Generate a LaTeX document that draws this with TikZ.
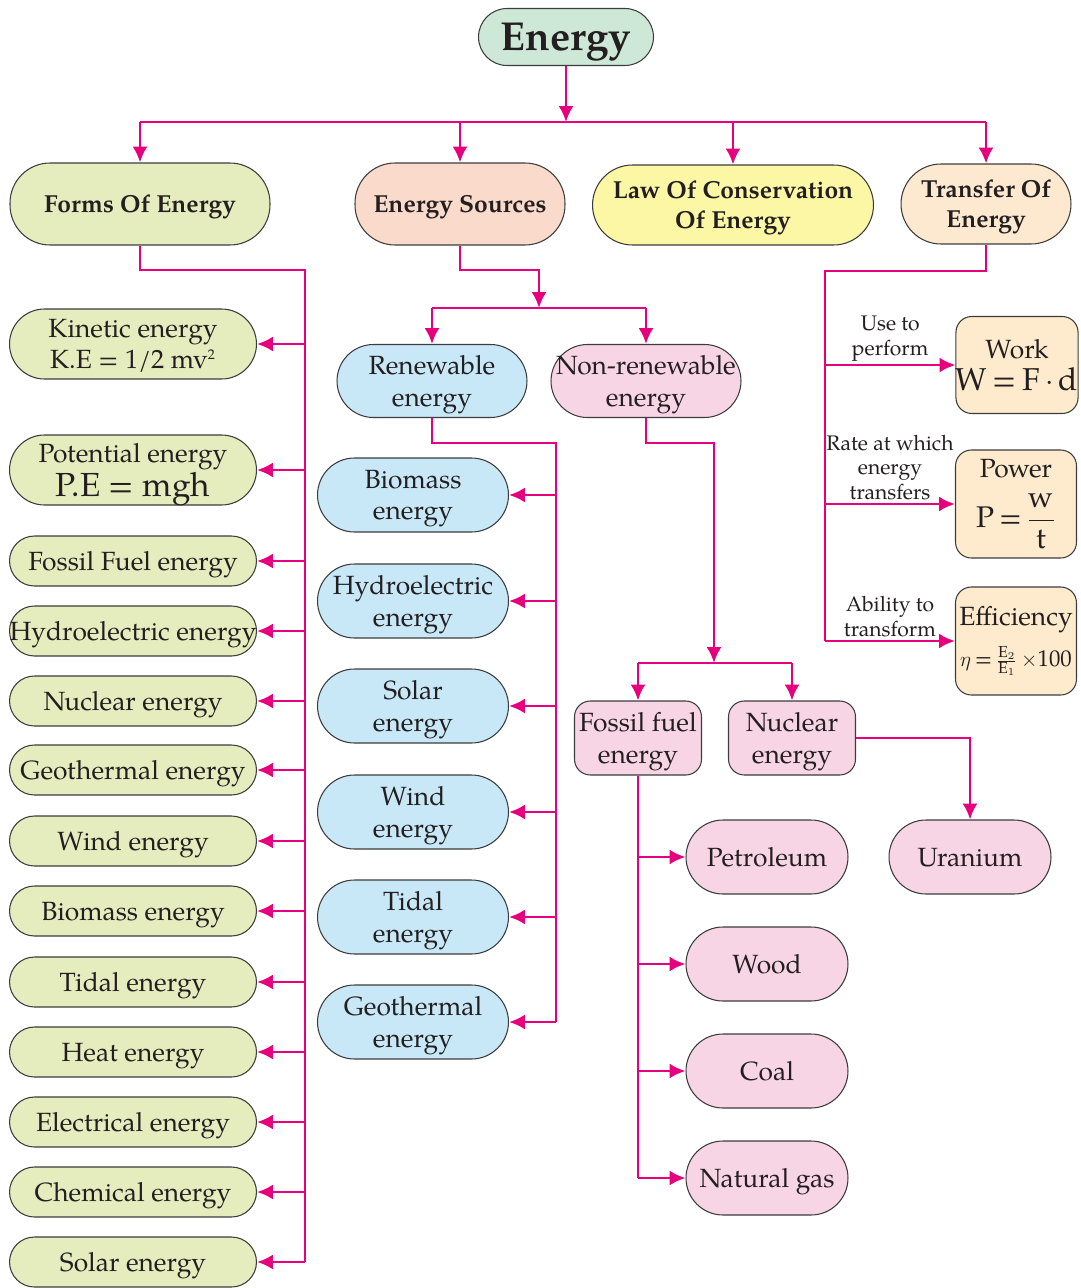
\documentclass[tikz,border=0pt]{standalone}
\usepackage{amsmath}
\usepackage{fontspec}
\setmainfont{texgyrepagella}[Extension=.otf,UprightFont=*-regular,BoldFont=*-bold,ItalicFont=*-italic,BoldItalicFont=*-bolditalic]
\usetikzlibrary{arrows.meta}
\definecolor{enMag}{RGB}{230,0,126}
\definecolor{enInk}{RGB}{35,31,32}
\definecolor{enLine}{RGB}{60,60,60}
\definecolor{enMint}{RGB}{205,232,214}
\definecolor{enForm}{RGB}{229,236,190}
\definecolor{enSalmon}{RGB}{250,218,203}
\definecolor{enYellow}{RGB}{252,247,165}
\definecolor{enPeach}{RGB}{253,233,207}
\definecolor{enBlue}{RGB}{200,232,248}
\definecolor{enPink}{RGB}{248,213,229}
\definecolor{enCream}{RGB}{254,234,204}

\begin{document}
\begin{tikzpicture}[x=0.02cm,y=-0.02cm,
    pill/.style={rectangle,rounded corners=#1,draw=enLine,line width=0.6pt,align=center,text=enInk,inner sep=0pt,text depth=0pt,font=\fontsize{15}{18}\selectfont},
    pill/.default=0.5cm,
    head/.style={pill=0.8cm,font=\fontsize{14}{17}\selectfont\bfseries},
    formitem/.style={pill=0.5cm,fill=enForm,minimum width=4.94cm,minimum height=1cm},
    renitem/.style={pill=0.74cm,fill=enBlue,minimum width=3.82cm,minimum height=1.48cm},
    fuelitem/.style={pill=0.74cm,fill=enPink,minimum width=3.24cm,minimum height=1.48cm},
    box/.style={rectangle,rounded corners=9pt,draw=enLine,line width=0.6pt,align=center,text=enInk,inner sep=0pt,font=\fontsize{15}{18}\selectfont},
    lbl/.style={align=center,text=enInk,inner sep=1.5pt,font=\fontsize{12}{14}\selectfont},
    line/.style={draw=enMag,line width=1.6pt},
    arrow/.style={line,-{Latex[length=9pt,width=8.5pt]}}
  ]
    \useasboundingbox (0,0) rectangle (1081,1288);
    % root and first level
    \node[pill=0.57cm,fill=enMint,minimum width=3.5cm,minimum height=1.14cm,font=\fontsize{23}{26}\selectfont\bfseries] (energy) at (566,37) {Energy};
    \node[head,fill=enForm,minimum width=5.2cm,minimum height=1.64cm] (forms) at (140,204) {Forms Of Energy};
    \node[head,fill=enSalmon,minimum width=4.2cm,minimum height=1.64cm] (sources) at (460,204) {Energy Sources};
    \node[head,fill=enYellow,minimum width=5.62cm,minimum height=1.6cm] (law) at (733,205) {Law Of Conservation\\Of Energy};
    \node[head,fill=enPeach,minimum width=3.4cm,minimum height=1.6cm] (transfer) at (986,204) {Transfer Of\\Energy};

    % forms of energy
    \node[formitem,pill=0.7cm,minimum height=1.4cm] (kinetic) at (133,344) {Kinetic energy\\K.E = 1/2 mv\textsuperscript{\fontsize{8}{8}\selectfont 2}};
    \node[formitem,pill=0.7cm,minimum height=1.4cm] (potential) at (133,470) {Potential energy\\{\fontsize{19}{20}\selectfont P.E = mgh}};
    \node[formitem] (fossilF) at (133,561) {Fossil Fuel energy};
    \node[formitem] (hydroF) at (133,631) {Hydroelectric energy};
    \node[formitem] (nuclearF) at (133,701) {Nuclear energy};
    \node[formitem] (geoF) at (133,770) {Geothermal energy};
    \node[formitem] (windF) at (133,841) {Wind energy};
    \node[formitem] (bioF) at (133,911) {Biomass energy};
    \node[formitem] (tidalF) at (133,982) {Tidal energy};
    \node[formitem] (heatF) at (133,1052) {Heat energy};
    \node[formitem] (elecF) at (133,1122) {Electrical energy};
    \node[formitem] (chemF) at (133,1192) {Chemical energy};
    \node[formitem] (solarF) at (133,1262) {Solar energy};

    % energy sources
    \node[pill=0.73cm,fill=enBlue,minimum width=3.8cm,minimum height=1.46cm] (renew) at (432,381) {Renewable\\energy};
    \node[pill=0.73cm,fill=enPink,minimum width=3.8cm,minimum height=1.46cm] (nonrenew) at (646,381) {Non-renewable\\energy};
    \node[renitem] (bioR) at (413,495) {Biomass\\energy};
    \node[renitem] (hydroR) at (413,601) {Hydroelectric\\energy};
    \node[renitem] (solarR) at (413,706) {Solar\\energy};
    \node[renitem] (windR) at (413,812) {Wind\\energy};
    \node[renitem] (tidalR) at (413,917) {Tidal\\energy};
    \node[renitem] (geoR) at (413,1022) {Geothermal\\energy};
    \node[box,fill=enPink,minimum width=2.54cm,minimum height=1.48cm,text depth=0pt] (fossilN) at (638,738) {Fossil fuel\\energy};
    \node[box,fill=enPink,minimum width=2.54cm,minimum height=1.48cm,text depth=0pt] (nuclearN) at (792,738) {Nuclear\\energy};
    \node[fuelitem] (uranium) at (970,857) {Uranium};
    \node[fuelitem] (petrol) at (767,857) {Petroleum};
    \node[fuelitem] (wood) at (767,964) {Wood};
    \node[fuelitem] (coal) at (767,1071) {Coal};
    \node[fuelitem] (gas) at (767,1178) {Natural gas};

    % transfer of energy
    \node[box,fill=enCream,minimum width=2.42cm,minimum height=1.94cm] (work) at (1017,365) {Work\\{\fontsize{18}{20}\selectfont W\,=\,F\,$\cdot$\,d}};
    \node[box,fill=enCream,minimum width=2.42cm,minimum height=2.16cm] (power) at (1016,504) {Power\\[8pt]{\fontsize{17}{20}\selectfont P\,=\,$\dfrac{\text{w}}{\text{t}}$}};
    \node[box,fill=enCream,minimum width=2.42cm,minimum height=2.16cm] (eff) at (1016,641) {Efficiency\\[5pt]{\fontsize{13}{16}\selectfont$\eta$\,=\,$\frac{\text{E}_2}{\text{E}_1}$\,$\times$100}};

    % connectors
    \coordinate (tbar) at (566,122);
    \draw[arrow] (energy) -- (tbar);
    \draw[line] (forms.north |- tbar) -- (transfer.north |- tbar);
    \foreach \n in {forms,sources,law,transfer} \draw[arrow] (\n.north |- tbar) -- (\n.north);

    \coordinate (fbus) at (305,270);
    \draw[line] (forms.south) |- (fbus) -- (fbus |- solarF.east);
    \foreach \n in {kinetic,potential,fossilF,hydroF,nuclearF,geoF,windF,bioF,tidalF,heatF,elecF,chemF,solarF}
      \draw[arrow] (fbus |- \n.east) -- (\n.east);

    \coordinate (sknee) at (539,270);
    \coordinate (sbar) at (539,308);
    \draw[arrow] (sources.south) |- (sknee) -- (sbar);
    \draw[line] (renew.north |- sbar) -- (nonrenew.north |- sbar);
    \draw[arrow] (renew.north |- sbar) -- (renew.north);
    \draw[arrow] (nonrenew.north |- sbar) -- (nonrenew.north);

    \coordinate (rbus) at (556,443);
    \draw[line] (renew.south) |- (rbus) -- (rbus |- geoR.east);
    \foreach \n in {bioR,hydroR,solarR,windR,tidalR,geoR}
      \draw[arrow] (rbus |- \n.east) -- (\n.east);

    \coordinate (nknee) at (714,443);
    \coordinate (nbar) at (714,663);
    \draw[arrow] (nonrenew.south) |- (nknee) -- (nbar);
    \draw[line] (fossilN.north |- nbar) -- (nuclearN.north |- nbar);
    \draw[arrow] (fossilN.north |- nbar) -- (fossilN.north);
    \draw[arrow] (nuclearN.north |- nbar) -- (nuclearN.north);
    \draw[arrow] (nuclearN.east) -| (uranium.north);
    \draw[line] (fossilN.south) -- (fossilN.south |- gas.west);
    \foreach \n in {petrol,wood,coal,gas}
      \draw[arrow] (fossilN.south |- \n.west) -- (\n.west);

    \coordinate (tbus) at (825,271);
    \draw[line] (transfer.south) |- (tbus) -- (tbus |- eff.west);
    \draw[arrow] (tbus |- work.west) -- node[lbl,above] (use) {Use to\\perform} (work.west);
    \draw[arrow] (tbus |- power.west) -- node[lbl,above] (rate) {Rate at which\\energy\\transfers} (power.west);
    \draw[arrow] (tbus |- eff.west) -- node[lbl,above] (ability) {Ability to\\transform} (eff.west);
  \end{tikzpicture}
\end{document}
